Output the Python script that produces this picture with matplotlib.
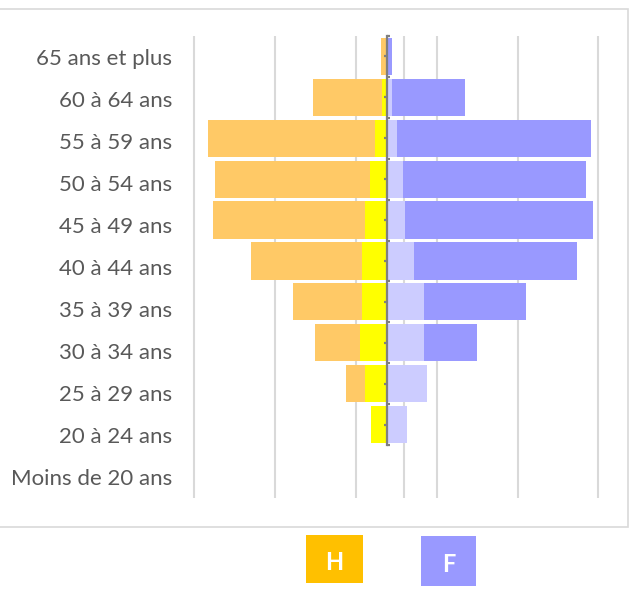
import numpy as np
import matplotlib
matplotlib.use("Agg")
import matplotlib.pyplot as plt
from matplotlib.patches import Rectangle

# ---- data ----
categories = ["65 ans et plus", "60 à 64 ans", "55 à 59 ans", "50 à 54 ans",
              "45 à 49 ans", "40 à 44 ans", "35 à 39 ans", "30 à 34 ans",
              "25 à 29 ans", "20 à 24 ans", "Moins de 20 ans"]
h_inner = [0.00, 0.56, 1.42, 2.04, 2.62, 3.03, 3.03, 3.28, 2.62, 1.88, 0.00]
h_outer = [0.68, 8.57, 20.67, 19.15, 18.82, 13.78, 8.58, 5.53, 2.43, 0.00, 0.00]
f_inner = [0.00, 0.72, 1.34, 2.04, 2.33, 3.44, 4.64, 4.68, 5.01, 2.54, 0.00]
f_outer = [0.68, 9.03, 23.97, 22.61, 23.26, 20.10, 12.59, 6.52, 0.00, 0.00, 0.00]
grid_ticks = [-23.82, -13.80, -3.77, 2.17, 6.25, 16.27, 26.18]
legend_labels = ["H", "F"]

# ---- style ----
C_YEL = "#FFFF00"
C_ORA = "#FFC966"
C_LAV = "#CCCCFF"
C_PUR = "#9999FF"
C_LEG_H = "#FFC000"
C_LEG_F = "#9999FF"
C_TXT = "#595959"
C_GRID = "#D9D9D9"
C_AX = "#7F7F7F"
FONT = ["Lato", "DejaVu Sans"]

W, H = 630, 594
fig = plt.figure(figsize=(W / 100, H / 100), dpi=100)

PX = 8.08     # pixels per data unit
X0 = 386.5    # pixel position of zero
L, R = 180, 610
xlim = ((L - X0) / PX, (R - X0) / PX)

# label / grid axes (11 rows)
ax2 = fig.add_axes([L / W, 1 - 498 / H, (R - L) / W, (498 - 36) / H])
ax2.set_zorder(0)
ax2.set_xlim(*xlim)
ax2.set_ylim(len(categories) - 0.5, -0.5)
ax2.set_xticks(grid_ticks)
ax2.grid(axis="x", color=C_GRID, lw=1.5)
ax2.tick_params(axis="x", length=0, labelbottom=False)
ax2.set_yticks(range(len(categories)))
ax2.set_yticklabels(categories, fontsize=16, color=C_TXT, family=FONT)
ax2.tick_params(axis="y", length=0, pad=5.8)
for s in ax2.spines.values():
    s.set_visible(False)

# bar axes (10 rows)
ax = fig.add_axes([L / W, 1 - 445 / H, (R - L) / W, (445 - 36) / H])
ax.set_zorder(1)
ax.patch.set_alpha(0)
ax.set_xlim(*xlim)
ax.set_ylim(9.5, -0.5)
y = np.arange(len(categories))
hi = np.array(h_inner); ho = np.array(h_outer)
fi = np.array(f_inner); fo = np.array(f_outer)
bh = 0.91
ax.barh(y, -hi, height=bh, color=C_YEL, lw=0)
ax.barh(y, -ho, left=-hi, height=bh, color=C_ORA, lw=0)
ax.barh(y, fi, height=bh, color=C_LAV, lw=0)
ax.barh(y, fo, left=fi, height=bh, color=C_PUR, lw=0)

for k in ["top", "right", "bottom"]:
    ax.spines[k].set_visible(False)
ax.spines["left"].set_position(("data", 0))
ax.spines["left"].set_color(C_AX)
ax.spines["left"].set_linewidth(1.6)
ax.set_xticks([])
ax.set_yticks(np.arange(10))
ax.set_yticks(np.arange(-0.5, 10, 1), minor=True)
ax.tick_params(axis="y", which="major", direction="out", length=2.5, width=1.6,
               color=C_AX, labelleft=False)
ax.tick_params(axis="y", which="minor", direction="in", length=2.5, width=1.6,
               color=C_AX, labelleft=False)

# outer frame
fig.patches.append(Rectangle((-1 / W, 1 - 527 / H), 628.5 / W, (527 - 8.5) / H,
                             transform=fig.transFigure, fill=False,
                             ec=C_GRID, lw=1.2))

# legend boxes
boxes = [(306, 535, 57, 48, C_LEG_H), (421, 536, 55, 50, C_LEG_F)]
for (bx, by, bw, bhh, c), lab in zip(boxes, legend_labels):
    fig.patches.append(Rectangle((bx / W, 1 - (by + bhh) / H), bw / W, bhh / H,
                                 transform=fig.transFigure, color=c, lw=0))
    fig.text((bx + bw / 2) / W, 1 - (by + bhh / 2 + 4) / H, lab, color="white",
             fontsize=17, fontweight="bold", family=FONT,
             ha="center", va="center")

fig.savefig("out.png", dpi=100)
